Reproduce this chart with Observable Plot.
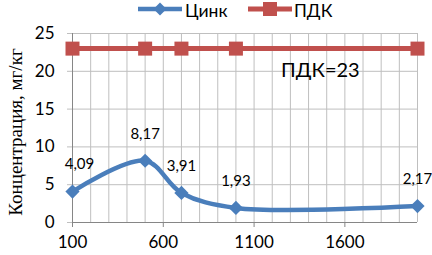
<!DOCTYPE html>
<html><head><meta charset="utf-8">
<script src="https://cdn.jsdelivr.net/npm/d3@7"></script>
<script src="https://cdn.jsdelivr.net/npm/@observablehq/plot@0.6"></script>
<style>
body{margin:0;background:#fff;}
#wrap{width:432px;height:255px;position:relative;overflow:hidden;font-family:Lato,sans-serif;}
#legend{height:17px;position:relative;}
</style></head>
<body><div id="wrap"><div id="legend"></div><div id="chart"></div></div>
<script>
const depths = [100, 500, 700, 1000, 2000];
const zinc = [4.09, 8.17, 3.91, 1.93, 2.17];
const pdk = [23, 23, 23, 23, 23];
const seriesNames = ["Цинк", "ПДК"];
const pdkLabel = "ПДК=23";
const yTitle = "Концентрация, мг/кг";
const xTicks = [100, 600, 1100, 1600];
const yTicks = [0, 5, 10, 15, 20, 25];
const xGrid = d3.range(100, 2001, 100);

const blue = "#4a7ebb", red = "#c0504d";
const zincData = depths.map((d, i) => ({x: d, y: zinc[i], label: d3.format(".2f")(zinc[i]).replace(".", ",")}));
const pdkData = depths.map((d, i) => ({x: d, y: pdk[i]}));

// legend
document.getElementById("legend").innerHTML = `
<svg width="432" height="22" style="position:absolute;left:0;top:0;overflow:visible;z-index:2">
 <line x1="138" x2="182" y1="9" y2="9" stroke="${blue}" stroke-width="4.5"/>
 <path d="M160,2.5 L166.5,9 L160,15.5 L153.5,9 Z" fill="${blue}"/>
 <text x="185" y="17" font-family="Lato" font-size="17.5" fill="#000">${seriesNames[0]}</text>
 <line x1="248" x2="292" y1="9" y2="9" stroke="${red}" stroke-width="5"/>
 <rect x="263" y="2" width="14" height="14" fill="${red}"/>
 <text x="294" y="17" font-family="Lato" font-size="17.5" fill="#000">${seriesNames[1]}</text>
</svg>`;

const chart = Plot.plot({
  width: 432, height: 238,
  marginLeft: 72, marginRight: 15, marginTop: 16, marginBottom: 33,
  style: {fontFamily: "Lato, sans-serif", fontSize: "17px", color: "#000", background: "transparent"},
  x: {domain: [100, 2000]},
  y: {domain: [0, 25]},
  marks: [
    Plot.gridX(xGrid, {stroke: "#bfbfbf", strokeOpacity: 1}),
    Plot.gridY(yTicks, {stroke: "#bfbfbf", strokeOpacity: 1}),
    Plot.axisY(yTicks, {tickSize: 5, tickPadding: 13, label: null, stroke: "#bfbfbf", fill: "#000"}),
    Plot.axisX(xTicks, {tickSize: 5, tickPadding: 8, label: null, tickFormat: d => String(d), stroke: "#868686", fill: "#000"}),
    Plot.ruleY([0], {stroke: "#868686"}),
    Plot.ruleX([100], {stroke: "#868686"}),
    Plot.line(pdkData, {x: "x", y: "y", stroke: red, strokeWidth: 5}),
    Plot.dot(pdkData, {x: "x", y: "y", symbol: "square", fill: red, r: 7.9}),
    Plot.line(zincData, {x: "x", y: "y", stroke: blue, strokeWidth: 4.5, curve: "catmull-rom"}),
    Plot.dot(zincData, {x: "x", y: "y", symbol: "diamond2", fill: blue, r: 6.4}),
    Plot.text(zincData.slice(0, 1), {x: "x", y: "y", text: "label", dy: -27, dx: 7, fontSize: 15, fill: "#000"}),
    Plot.text(zincData.slice(1), {x: "x", y: "y", text: "label", dy: -27, fontSize: 15, fill: "#000"}),
    Plot.text([pdkLabel], {x: 1465, y: 20.1, text: d => d, fontSize: 20, fill: "#000"}),
    Plot.text([yTitle], {frameAnchor: "left", textAnchor: "middle", rotate: -90, dx: -57, dy: 4, text: d => d, fontFamily: "Liberation Serif", fontSize: 19, fill: "#000"})
  ]
});
document.getElementById("chart").appendChild(chart);
</script></body></html>
